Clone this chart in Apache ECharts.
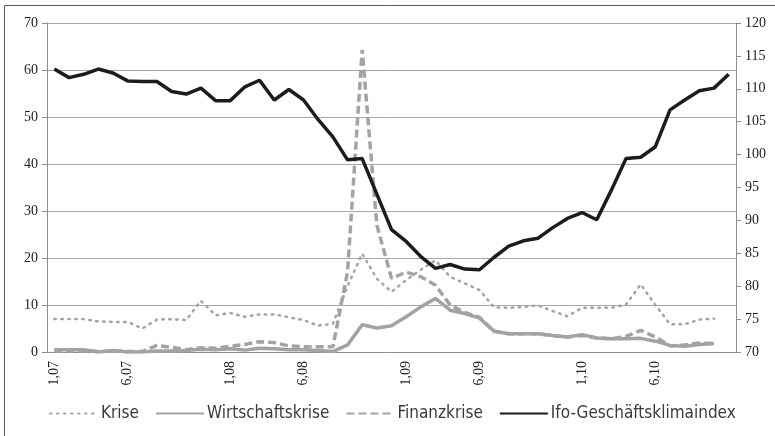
<!DOCTYPE html>
<html>
<head>
<meta charset="utf-8">
<script src="https://cdn.jsdelivr.net/npm/echarts@6/dist/echarts.min.js"></script>
<style>
  html, body { margin: 0; padding: 0; background: #fff; }
  #chart { width: 775px; height: 436px; }
</style>
</head>
<body>
<div id="chart"></div>
<script>
// Monate Jan 2007 bis Nov 2010
const months = [
  '1,07','2,07','3,07','4,07','5,07','6,07','7,07','8,07','9,07','10,07','11,07','12,07',
  '1,08','2,08','3,08','4,08','5,08','6,08','7,08','8,08','9,08','10,08','11,08','12,08',
  '1,09','2,09','3,09','4,09','5,09','6,09','7,09','8,09','9,09','10,09','11,09','12,09',
  '1,10','2,10','3,10','4,10','5,10','6,10','7,10','8,10','9,10','10,10','11,10'
];

// Medienanteile (linke Achse)
const krise = [7.0,7.0,7.0,6.5,6.4,6.4,5.0,6.9,7.0,6.8,10.9,7.8,8.3,7.5,8.0,8.0,7.4,6.8,5.6,6.0,
  14.0,20.9,15.6,12.8,15.3,17.5,19.5,16.0,14.6,13.2,9.5,9.4,9.6,9.9,8.7,7.6,9.4,9.4,9.4,10.1,
  14.4,10.0,5.9,5.9,6.9,7.1];
const wirtschaftskrise = [0.5,0.5,0.5,0.0,0.3,0.0,0.0,0.2,0.2,0.3,0.6,0.5,0.7,0.4,0.8,0.7,0.5,0.5,0.3,0.1,
  1.5,5.8,5.1,5.6,7.5,9.6,11.4,8.9,8.2,7.2,4.4,3.9,3.9,3.9,3.5,3.2,3.7,3.0,2.8,2.8,
  2.9,2.3,1.4,1.2,1.6,1.8];
const finanzkrise = [0.2,0.2,0.2,0.1,0.2,0.1,0.1,1.4,1.0,0.5,0.9,0.8,1.2,1.6,2.2,2.0,1.3,1.1,1.1,1.1,
  17.0,64.3,27.0,15.7,17.0,16.0,14.2,10.0,8.4,7.4,4.4,3.9,3.9,3.9,3.5,3.2,3.5,3.0,2.8,3.3,
  4.6,3.2,1.3,1.5,1.9,1.8];

// Ifo-Geschäftsklimaindex (rechte Achse)
const ifo = [113.0,111.7,112.2,113.0,112.4,111.2,111.1,111.1,109.6,109.2,110.1,108.2,108.2,110.3,111.3,
  108.3,109.9,108.3,105.3,102.7,99.2,99.4,94.0,88.6,86.8,84.5,82.7,83.3,82.6,82.5,84.4,86.1,86.9,
  87.3,88.9,90.3,91.2,90.1,94.6,99.4,99.6,101.2,106.8,108.3,109.7,110.1,112.2];

const axisFont = '"Liberation Serif", "DejaVu Serif", serif';
const gray = '#a3a3a3';

const chart = echarts.init(document.getElementById('chart'));
chart.setOption({
  animation: false,
  grid: { left: 47, right: 39, top: 23, bottom: 84 },
  graphic: [{
    type: 'rect',
    shape: { x: 4.5, y: 5.5, width: 900, height: 600 },
    style: { fill: 'none', stroke: '#5a5a5a', lineWidth: 1 }
  }],
  legend: {
    left: 44,
    top: 400,
    itemWidth: 48,
    itemHeight: 14,
    itemGap: 16,
    itemStyle: { opacity: 0 },
    textStyle: { fontFamily: '"Liberation Sans Narrow", "DejaVu Sans Condensed", sans-serif', fontSize: 17, color: '#3a3a3a', padding: [0, 0, 0, -2] },
    data: ['Krise', 'Wirtschaftskrise', 'Finanzkrise', 'Ifo-Geschäftsklimaindex']
  },
  xAxis: {
    type: 'category',
    data: months,
    boundaryGap: true,
    axisLine: { lineStyle: { color: '#8c8c8c' } },
    axisTick: { interval: 0, length: 5, lineStyle: { color: '#8c8c8c' } },
    axisLabel: {
      interval: (i, v) => v.split(',')[0] === '1' || v.split(',')[0] === '6',
      rotate: 90,
      margin: 9,
      fontFamily: axisFont,
      fontSize: 14,
      color: '#222'
    }
  },
  yAxis: [{
    type: 'value',
    min: 0, max: 70, interval: 10,
    axisLine: { show: true, lineStyle: { color: '#8c8c8c' } },
    axisTick: { show: true, length: 5, lineStyle: { color: '#8c8c8c' } },
    axisLabel: { margin: 9, fontFamily: axisFont, fontSize: 14, color: '#222' },
    splitLine: { lineStyle: { color: '#a8a8a8' } }
  }, {
    type: 'value',
    min: 70, max: 120, interval: 5,
    axisLine: { show: true, lineStyle: { color: '#8c8c8c' } },
    axisTick: { show: true, length: 5, lineStyle: { color: '#8c8c8c' } },
    axisLabel: { margin: 9, fontFamily: axisFont, fontSize: 14, color: '#222' },
    splitLine: { show: false }
  }],
  series: [{
    name: 'Krise',
    type: 'line',
    data: krise,
    symbol: 'none',
    itemStyle: { color: gray },
    lineStyle: { color: gray, width: 2.5, type: [1.5, 5.5], cap: 'round' }
  }, {
    name: 'Wirtschaftskrise',
    type: 'line',
    data: wirtschaftskrise,
    symbol: 'none',
    itemStyle: { color: gray },
    lineStyle: { color: gray, width: 3.5 }
  }, {
    name: 'Finanzkrise',
    type: 'line',
    data: finanzkrise,
    symbol: 'none',
    itemStyle: { color: gray },
    lineStyle: { color: gray, width: 3.5, type: [8, 4] }
  }, {
    name: 'Ifo-Geschäftsklimaindex',
    type: 'line',
    yAxisIndex: 1,
    data: ifo,
    symbol: 'none',
    itemStyle: { color: '#1c1c1c' },
    lineStyle: { color: '#1c1c1c', width: 3.5 }
  }]
});
</script>
</body>
</html>
